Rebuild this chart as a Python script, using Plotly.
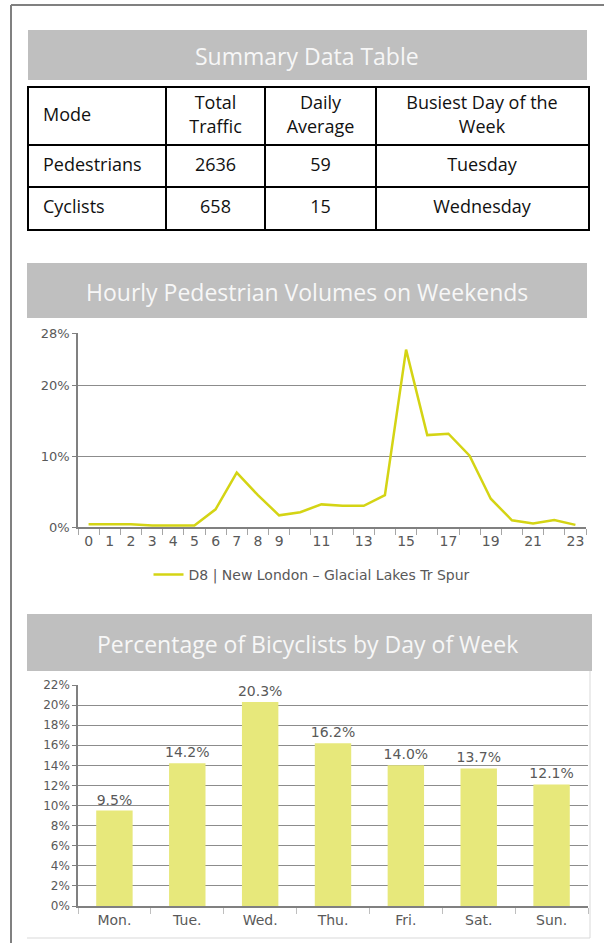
import plotly.graph_objects as go

W, H = 604, 943

# ---------------- data ----------------
table_header = ["Mode", "Total<br>Traffic", "Daily<br>Average", "Busiest Day of the<br>Week"]
modes = ["Pedestrians", "Cyclists"]
total_traffic = [2636, 658]
daily_average = [59, 15]
busiest_day = ["Tuesday", "Wednesday"]

hours = [str(h) for h in range(24)]
hour_ticktext = ["0", "1", "2", "3", "4", "5", "6", "7", "8", "9", "", "11", "", "13", "",
                 "15", "", "17", "", "19", "", "21", "", "23"]
ped_share = [0.4, 0.4, 0.4, 0.2, 0.2, 0.2, 2.5, 7.7, 4.5, 1.65, 2.1, 3.2, 3.0, 3.0, 4.5,
             25.1, 13.0, 13.2, 10.1, 4.0, 0.95, 0.5, 1.0, 0.3]
ped_series_name = "D8 | New London – Glacial Lakes Tr Spur"
ped_tickvals = [0, 10, 20, 27.45]
ped_ticktext = ["0%", "10%", "20%", "28%"]

days = ["Mon.", "Tue.", "Wed.", "Thu.", "Fri.", "Sat.", "Sun."]
bike_share = [9.5, 14.2, 20.3, 16.2, 14.0, 13.7, 12.1]

titles = ["Summary Data Table", "Hourly Pedestrian Volumes on Weekends",
          "Percentage of Bicyclists by Day of Week"]

# table geometry (layout, not data)
col_widths = [137, 99, 111, 212]
row_heights = [57, 42, 42]

# ---------------- helpers ----------------
def px(x):
    return x / W


def py(y):
    return 1 - y / H


def edges(sizes):
    out = [0]
    for s in sizes:
        out.append(out[-1] + s)
    return out


LINE_COLOR = "#d4d414"
BAR_COLOR = "#e7e87b"
GRID = "#8c8c8c"
LABEL = "#595959"

fig = go.Figure()

# ---------------- table (drawn on its own hidden axes) ----------------
cx = edges(col_widths)
ry = edges(row_heights)
table_rows = [table_header,
              [modes[0], total_traffic[0], daily_average[0], busiest_day[0]],
              [modes[1], total_traffic[1], daily_average[1], busiest_day[1]]]
left_x, left_y, left_t = [], [], []
ctr_x, ctr_y, ctr_t = [], [], []
for i, row in enumerate(table_rows):
    yc = (ry[i] + ry[i + 1]) / 2
    for j, val in enumerate(row):
        if j == 0:
            left_x.append(cx[0] + 14)
            left_y.append(yc)
            left_t.append(str(val))
        else:
            ctr_x.append((cx[j] + cx[j + 1]) / 2)
            ctr_y.append(yc)
            ctr_t.append(str(val))
tfont = dict(family="Open Sans", size=18, color="#111111")
fig.add_trace(go.Scatter(x=left_x, y=left_y, text=left_t, mode="text",
                         textposition="middle right", textfont=tfont,
                         xaxis="x3", yaxis="y3", showlegend=False, hoverinfo="skip"))
fig.add_trace(go.Scatter(x=ctr_x, y=ctr_y, text=ctr_t, mode="text",
                         textposition="middle center", textfont=tfont,
                         xaxis="x3", yaxis="y3", showlegend=False, hoverinfo="skip"))

# ---------------- line chart ----------------
fig.add_trace(go.Scatter(
    x=hours, y=ped_share, mode="lines", name=ped_series_name,
    line=dict(color=LINE_COLOR, width=2.5),
    xaxis="x", yaxis="y", showlegend=True, hoverinfo="skip",
))

# ---------------- bar chart ----------------
fig.add_trace(go.Bar(
    x=days, y=bike_share, xaxis="x2", yaxis="y2",
    marker=dict(color=BAR_COLOR, line=dict(width=0)),
    width=0.5,
    texttemplate="%{y:.1f}%", textposition="outside", constraintext="none",
    textfont=dict(family="DejaVu Sans", size=14, color=LABEL),
    cliponaxis=False, showlegend=False, hoverinfo="skip",
))

# ---------------- shapes ----------------
shapes = []
banners = [(28, 587, 30, 80), (27, 587, 263, 318), (27, 592, 614, 671)]
for (x0, x1, y0, y1) in banners:
    shapes.append(dict(type="rect", xref="paper", yref="paper",
                       x0=px(x0), x1=px(x1), y0=py(y1), y1=py(y0),
                       fillcolor="#bfbfbf", line=dict(width=0), layer="below"))
# outer page border
shapes.append(dict(type="line", xref="paper", yref="paper", x0=px(11), x1=px(11),
                   y0=0, y1=py(5), line=dict(color="#808080", width=2)))
shapes.append(dict(type="line", xref="paper", yref="paper", x0=px(11), x1=1,
                   y0=py(5), y1=py(5), line=dict(color="#808080", width=2)))
# bar chart frame
shapes.append(dict(type="line", xref="paper", yref="paper", x0=px(27), x1=px(590),
                   y0=py(938), y1=py(938), line=dict(color="#d9d9d9", width=1)))
shapes.append(dict(type="line", xref="paper", yref="paper", x0=px(590), x1=px(590),
                   y0=py(938), y1=py(671), line=dict(color="#d9d9d9", width=1)))

annotations = []
for t, (x0, x1, y0, y1) in zip(titles, banners):
    annotations.append(dict(text=t, xref="paper", yref="paper",
                            x=px(307), y=py((y0 + y1) / 2 + 1),
                            xanchor="center", yanchor="middle", showarrow=False,
                            font=dict(family="Open Sans", size=23, color="#f7f7f7")))

fig.update_layout(
    width=W, height=H, autosize=False,
    margin=dict(l=0, r=0, t=0, b=0, pad=0, autoexpand=False),
    paper_bgcolor="white", plot_bgcolor="white",
    shapes=shapes, annotations=annotations,
    showlegend=True, hovermode=False,
    legend=dict(orientation="h", x=px(312), xanchor="center", y=py(575), yanchor="middle",
                font=dict(family="DejaVu Sans", size=14, color=LABEL),
                bgcolor="rgba(0,0,0,0)", itemwidth=30),
    xaxis=dict(domain=[px(78), px(586)], anchor="y", type="category", automargin=False,
               tickmode="array", tickvals=hours, ticktext=hour_ticktext, tickangle=0,
               tickson="boundaries", ticks="outside", ticklen=6, tickcolor="#a6a6a6",
               showline=True, linecolor="#808080", linewidth=2, showgrid=False,
               tickfont=dict(family="DejaVu Sans", size=14, color=LABEL),
               range=[-0.5, 23.5], fixedrange=True),
    yaxis=dict(domain=[py(527), py(333)], anchor="x", range=[0, 27.45], automargin=False,
               tickmode="array", tickvals=ped_tickvals, ticktext=ped_ticktext,
               showgrid=True, gridcolor=GRID, gridwidth=1, zeroline=False,
               showline=True, linecolor="#808080", linewidth=1.5,
               ticks="outside", ticklen=4, tickcolor="#808080",
               tickfont=dict(family="DejaVu Sans", size=13, color=LABEL),
               fixedrange=True),
    xaxis2=dict(domain=[px(78), px(588)], anchor="y2", type="category", tickangle=0,
                automargin=False,
                tickson="boundaries", ticks="outside", ticklen=6, tickcolor="#bfbfbf",
                showline=True, linecolor="#808080", linewidth=2, showgrid=False,
                tickfont=dict(family="DejaVu Sans", size=14, color=LABEL),
                fixedrange=True),
    yaxis2=dict(domain=[py(906), py(685)], anchor="x2", range=[0, 22], dtick=2,
                automargin=False,
                ticksuffix="%", showgrid=True, gridcolor=GRID, gridwidth=1, zeroline=False,
                showline=True, linecolor="#808080", linewidth=1.5,
                ticks="outside", ticklen=4, tickcolor="#808080",
                tickfont=dict(family="DejaVu Sans", size=12, color=LABEL),
                fixedrange=True),
    xaxis3=dict(domain=[px(29), px(588)], anchor="y3", range=[cx[0], cx[-1]],
                automargin=False,
                tickmode="array", tickvals=cx[1:-1], showticklabels=False, ticks="",
                showgrid=True, gridcolor="black", gridwidth=1.5, zeroline=False,
                showline=True, mirror=True, linecolor="black", linewidth=1.5,
                fixedrange=True),
    yaxis3=dict(domain=[py(229), py(88)], anchor="x3", range=[ry[-1], ry[0]],
                automargin=False,
                tickmode="array", tickvals=ry[1:-1], showticklabels=False, ticks="",
                showgrid=True, gridcolor="black", gridwidth=1.5, zeroline=False,
                showline=True, mirror=True, linecolor="black", linewidth=1.5,
                fixedrange=True),
)

page_css = ("var s=document.createElement('style');"
            "s.textContent='html,body{margin:0 !important;padding:0 !important;"
            "overflow:hidden !important;height:943px !important;}"
            "body>div{margin:0 !important;padding:0 !important;line-height:0;}';"
            "document.head.appendChild(s);")
fig.write_html("out.html", config={"displayModeBar": False}, post_script=page_css)
